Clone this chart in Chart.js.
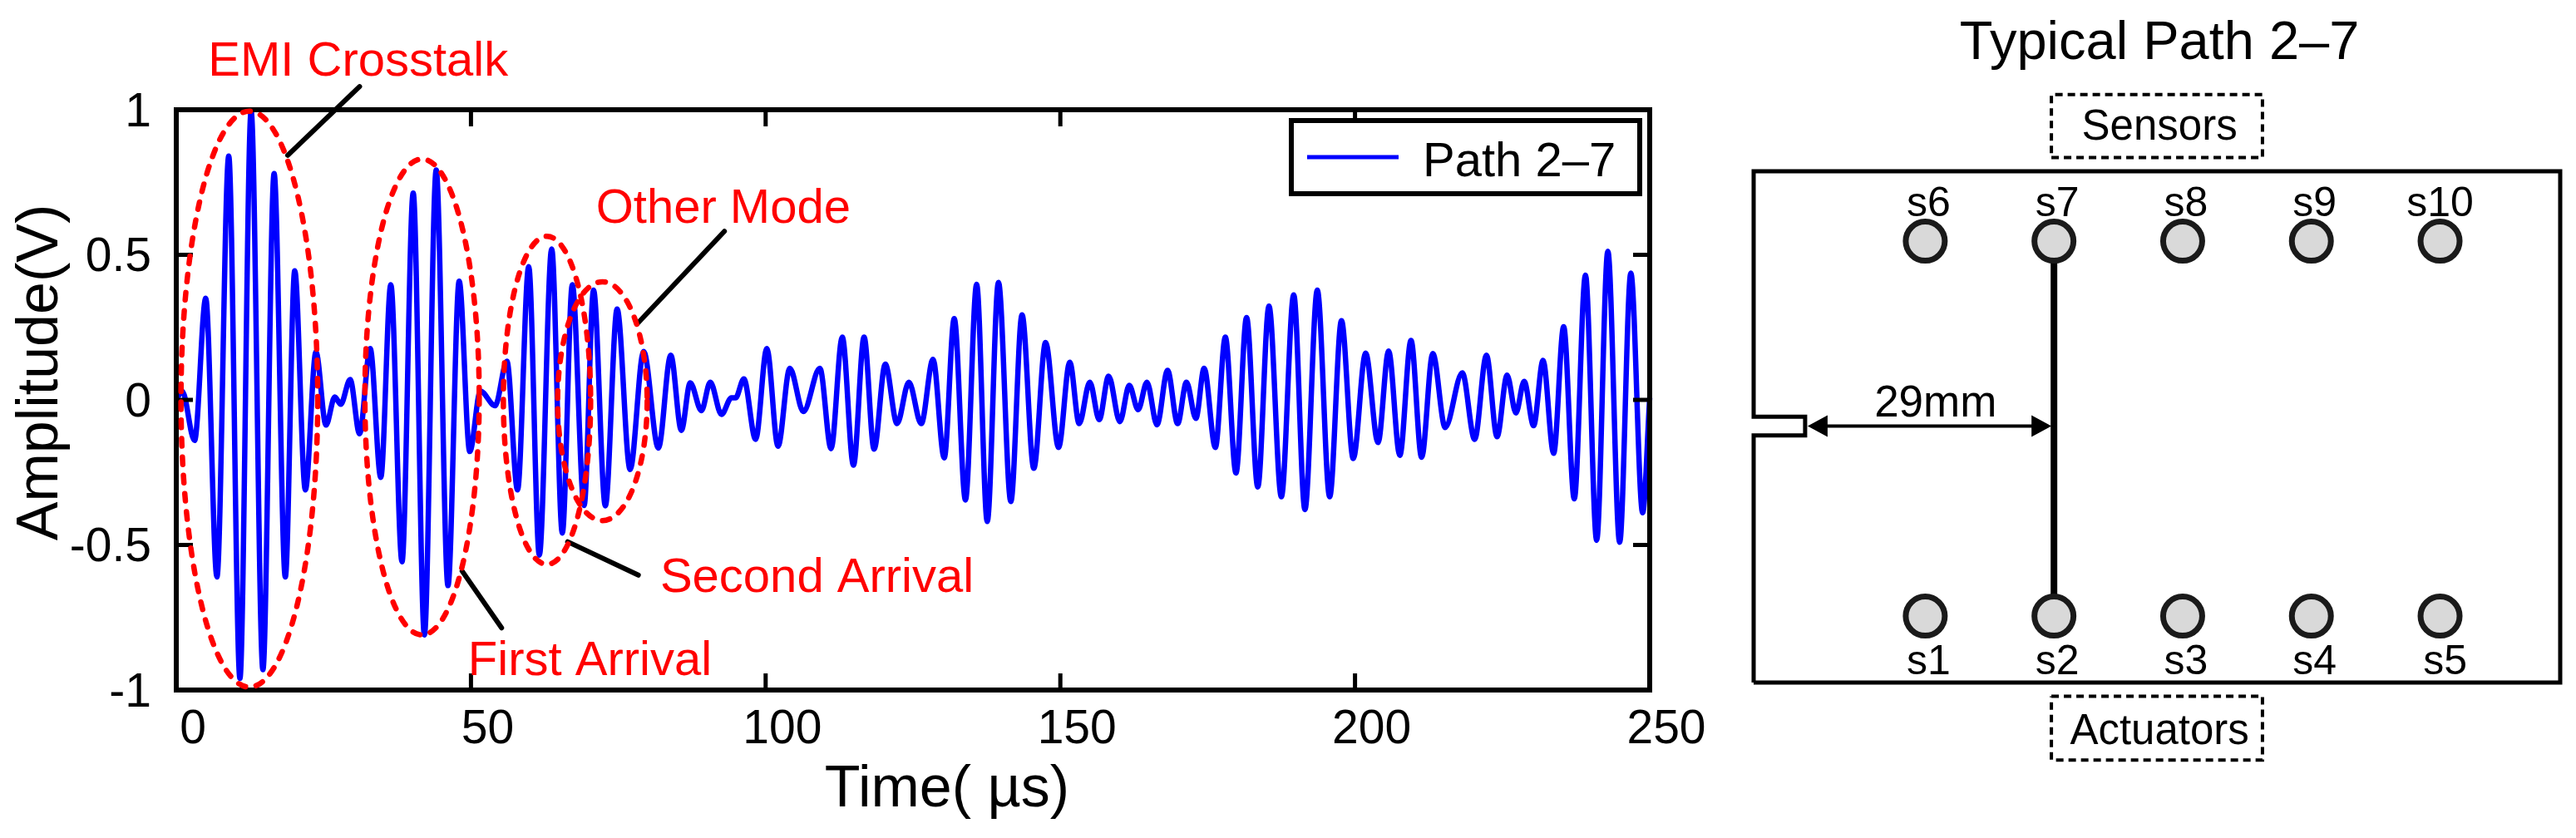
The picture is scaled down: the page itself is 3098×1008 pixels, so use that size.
<!DOCTYPE html>
<html>
<head>
<meta charset="utf-8">
<title>Path 2-7</title>
<script src="https://cdn.jsdelivr.net/npm/chart.js@4"></script>
<style>
  html, body { margin: 0; padding: 0; background: #fff; width: 3098px; height: 1008px; overflow: hidden; }
  canvas { position: absolute; top: 0; }
  #signalChart { left: 0; }
  #boardChart { left: 2090px; }
</style>
</head>
<body>
<canvas id="signalChart" width="2090" height="1008"></canvas>
<canvas id="boardChart" width="1008" height="1008"></canvas>
<script>
//Signal, peaks and troughs only
const times = [0, 1, 3.1, 5, 6.9, 8.9, 10.8, 12.7, 14.7, 16.6, 18.5, 20.1, 21.9, 23.7, 25.4, 26.9, 27.9, 29.5, 31.1,
  32.9, 34.7, 36.4, 38.3, 40.2, 42.1, 44.1, 46.1, 48, 49.8, 51.6, 54.1, 56.1, 57.9, 59.8, 61.6, 63.7, 65.5, 67.2,
  69.2, 70.8, 72.8, 74.8, 77, 79.3, 81.8, 83.9, 85.7, 87.2, 89.1, 90.6, 92.5, 94.2, 94.9, 96.3, 98.3, 100.2, 102.1,
  104.1, 106.4, 109.2, 111.1, 113, 114.9, 116.7, 118.4, 120.3, 122.3, 124.3, 126.4, 128.4, 130.3, 132, 133.9, 135.8,
  137.6, 139.5, 141.6, 143.5, 145.5, 147.5, 149.7, 151.6, 153.2, 155, 156.6, 158.2, 160.1, 161.7, 163.2, 164.7,
  166.4, 168.2, 169.9, 171.4, 173, 174.4, 176.3, 178, 179.8, 181.6, 183.5, 185.4, 187.5, 189.6, 191.5, 193.6, 195.7,
  197.7, 199.7, 201.8, 203.9, 205.7, 207.6, 209.5, 211.3, 213.2, 215.3, 218.2, 220.3, 222.3, 224.1, 225.8, 227.3,
  228.7, 230.3, 231.9, 233.7, 235.4, 237.2, 239.1, 241, 242.9, 244.9, 246.8, 248.8, 250];
const amplitudes = [0, 0.03, -0.14, 0.35, -0.61, 0.84, -0.96, 0.995, -0.93, 0.78, -0.61, 0.445, -0.31, 0.165, -0.087,
  0.01, -0.015, 0.07, -0.117, 0.177, -0.267, 0.397, -0.558, 0.713, -0.81, 0.792, -0.64, 0.409, -0.178, 0.03, -0.02,
  0.133, -0.31, 0.459, -0.535, 0.52, -0.459, 0.397, -0.364, 0.378, -0.365, 0.313, -0.24, 0.167, -0.166, 0.154, -0.105,
  0.059, -0.037, 0.061, -0.05, 0.007, 0.007, 0.072, -0.136, 0.177, -0.16, 0.109, -0.04, 0.109, -0.168, 0.216, -0.225,
  0.216, -0.17, 0.123, -0.082, 0.061, -0.082, 0.14, -0.2, 0.28, -0.345, 0.398, -0.419, 0.405, -0.35, 0.293, -0.236,
  0.198, -0.164, 0.13, -0.082, 0.061, -0.068, 0.082, -0.075, 0.05, -0.034, 0.061, -0.086, 0.102, -0.082, 0.061, -0.064,
  0.109, -0.164, 0.216, -0.252, 0.284, -0.3, 0.323, -0.334, 0.362, -0.378, 0.378, -0.334, 0.273, -0.202, 0.161, -0.147,
  0.168, -0.191, 0.205, -0.198, 0.16, -0.095, 0.093, -0.136, 0.154, -0.127, 0.085, -0.045, 0.064, -0.089, 0.136,
  -0.184, 0.252, -0.341, 0.43, -0.484, 0.512, -0.491, 0.437, -0.389, 0.007];
const seriesName = 'Path 2\u20137';
const xTicks = [0, 50, 100, 150, 200, 250];
const yTicks = [-1, -0.5, 0, 0.5, 1];

//Red notes on the signal: centre time, half width, top, bottom
const ellipseCentres = [12.4, 41.7, 62.9, 72.3];
const ellipseHalfWidths = [11.6, 9.7, 7.4, 7.6];
const ellipseTops = [0.995, 0.83, 0.564, 0.407];
const ellipseBottoms = [-0.99, -0.81, -0.567, -0.416];
const noteNames = ['EMI Crosstalk', 'First Arrival', 'Second Arrival', 'Other Mode'];
const noteTimes = [5.4, 49.5, 82.1, 71.2];
const noteAmps = [1.117, -0.949, -0.661, 0.61];
const leaderFromT = [31.1, 48.5, 66.4, 93];
const leaderFromA = [1.08, -0.59, -0.489, 0.581];
const leaderToT = [18.9, 55.2, 78.4, 78.2];
const leaderToA = [0.843, -0.786, -0.604, 0.262];

//Board diagram in mm
const sensorX = [20, 35, 50, 65, 80];
const topRowY = 51.8;
const bottomRowY = 7.8;
const topNames = ['s6', 's7', 's8', 's9', 's10'];
const bottomNames = ['s1', 's2', 's3', 's4', 's5'];
const boardX = [0, 0, 6, 6, 0, 0, 94, 94, 0];
const boardY = [0, 29, 29, 31.2, 31.2, 60, 60, 0, 0];
const pathX = [35, 35];
const pathY = [7.8, 51.8];
const sensorBoxX = [34.7, 59.3, 59.3, 34.7, 34.7];
const sensorBoxY = [61.6, 61.6, 69, 69, 61.6];
const actuatorBoxX = [34.7, 59.3, 59.3, 34.7, 34.7];
const actuatorBoxY = [-1.6, -1.6, -9.1, -9.1, -1.6];

const FONT = '"Liberation Sans", Arial, sans-serif';

function pairs(xs, ys) {
  return xs.map((x, i) => ({ x: x, y: ys[i] }));
}

//Frame, inward ticks, notes and legend for the signal chart
const signalExtras = {
  id: 'signalExtras',
  afterDatasetsDraw(chart) {
    const ctx = chart.ctx, sx = chart.scales.x, sy = chart.scales.y, area = chart.chartArea;
    ctx.save();
    ctx.strokeStyle = '#000';
    ctx.lineWidth = 5;
    xTicks.forEach(v => {
      const p = sx.getPixelForValue(v);
      ctx.beginPath();
      ctx.moveTo(p, area.top); ctx.lineTo(p, area.top + 20);
      ctx.moveTo(p, area.bottom); ctx.lineTo(p, area.bottom - 20);
      ctx.stroke();
    });
    yTicks.forEach(v => {
      const p = sy.getPixelForValue(v);
      ctx.beginPath();
      ctx.moveTo(area.left, p); ctx.lineTo(area.left + 20, p);
      ctx.moveTo(area.right, p); ctx.lineTo(area.right - 20, p);
      ctx.stroke();
    });
    ctx.lineWidth = 6;
    ctx.strokeRect(area.left, area.top, area.right - area.left, area.bottom - area.top);

    //leaders
    ctx.lineCap = 'round';
    ctx.lineWidth = 6;
    leaderFromT.forEach((t, i) => {
      ctx.beginPath();
      ctx.moveTo(sx.getPixelForValue(t), sy.getPixelForValue(leaderFromA[i]));
      ctx.lineTo(sx.getPixelForValue(leaderToT[i]), sy.getPixelForValue(leaderToA[i]));
      ctx.stroke();
    });

    //dashed ellipses
    ctx.strokeStyle = '#ff0000';
    ctx.lineWidth = 6.5;
    ctx.setLineDash([9, 13]);
    ellipseCentres.forEach((c, i) => {
      const rx = sx.getPixelForValue(c + ellipseHalfWidths[i]) - sx.getPixelForValue(c);
      const yTop = sy.getPixelForValue(ellipseTops[i]);
      const yBot = sy.getPixelForValue(ellipseBottoms[i]);
      ctx.beginPath();
      ctx.ellipse(sx.getPixelForValue(c), (yTop + yBot) / 2, rx, (yBot - yTop) / 2, 0, 0, Math.PI * 2);
      ctx.stroke();
    });
    ctx.setLineDash([]);
    ctx.lineCap = 'butt';

    //note text
    ctx.fillStyle = '#ff0000';
    ctx.font = '58px ' + FONT;
    ctx.textAlign = 'left';
    ctx.textBaseline = 'alphabetic';
    noteNames.forEach((name, i) => {
      ctx.fillText(name, sx.getPixelForValue(noteTimes[i]), sy.getPixelForValue(noteAmps[i]));
    });

    //axis titles
    ctx.fillStyle = '#000';
    ctx.font = '70px ' + FONT;
    ctx.textAlign = 'center';
    ctx.fillText('Time( \u00b5s)', 1139, 970);
    ctx.save();
    ctx.translate(69, 448);
    ctx.rotate(-Math.PI / 2);
    ctx.fillText('Amplitude(V)', 0, 0);
    ctx.restore();

    //legend
    ctx.fillStyle = '#fff';
    ctx.fillRect(1553, 145, 419, 88);
    ctx.strokeStyle = '#000';
    ctx.lineWidth = 6;
    ctx.strokeRect(1553, 145, 419, 88);
    ctx.strokeStyle = '#0000ff';
    ctx.lineWidth = 5;
    ctx.beginPath();
    ctx.moveTo(1572, 189); ctx.lineTo(1682, 189);
    ctx.stroke();
    ctx.fillStyle = '#000';
    ctx.font = '58px ' + FONT;
    ctx.textAlign = 'left';
    ctx.fillText(chart.data.datasets[0].label, 1711, 212);
    ctx.restore();
  }
};

//Text and arrow on the board diagram
const boardExtras = {
  id: 'boardExtras',
  afterDatasetsDraw(chart) {
    const ctx = chart.ctx, sx = chart.scales.x, sy = chart.scales.y;
    const px = v => sx.getPixelForValue(v), py = v => sy.getPixelForValue(v);
    ctx.save();
    ctx.fillStyle = '#000';
    ctx.strokeStyle = '#000';
    ctx.textAlign = 'center';
    ctx.textBaseline = 'alphabetic';

    ctx.font = '65px ' + FONT;
    ctx.fillText('Typical Path 2\u20137', px(47.3), 71);
    ctx.font = '51px ' + FONT;
    ctx.fillText('Sensors', px(47.3), 168);
    ctx.fillText('Actuators', px(47.3), 895);

    ctx.font = '50px ' + FONT;
    sensorX.forEach((x, i) => {
      ctx.fillText(topNames[i], px(x) + (i === 4 ? 0 : 4), 260);
      ctx.fillText(bottomNames[i], px(x) + (i === 4 ? 6 : 4), 811);
    });

    //29mm span between notch and path
    const ay = py(30.1), ax0 = px(6) + 3, ax1 = px(35) - 3;
    ctx.lineWidth = 4;
    ctx.beginPath();
    ctx.moveTo(ax0 + 10, ay); ctx.lineTo(ax1 - 10, ay);
    ctx.stroke();
    ctx.beginPath();
    ctx.moveTo(ax0, ay); ctx.lineTo(ax0 + 24, ay - 13); ctx.lineTo(ax0 + 24, ay + 13); ctx.closePath();
    ctx.moveTo(ax1, ay); ctx.lineTo(ax1 - 24, ay - 13); ctx.lineTo(ax1 - 24, ay + 13); ctx.closePath();
    ctx.fill();
    ctx.font = '53px ' + FONT;
    ctx.fillText('29mm', px(21.2), 501);
    ctx.restore();
  }
};

new Chart(document.getElementById('signalChart').getContext('2d'), {
  type: 'line',
  data: {
    datasets: [{
      label: seriesName,
      data: pairs(times, amplitudes),
      borderColor: '#0000ff',
      borderWidth: 6.5,
      pointRadius: 0,
      cubicInterpolationMode: 'monotone',
      fill: false,
      clip: false
    }]
  },
  options: {
    responsive: false,
    animation: false,
    devicePixelRatio: 1,
    layout: { padding: { left: 0, right: 106, top: 132, bottom: 0 } },
    plugins: { legend: { display: false }, tooltip: { enabled: false } },
    scales: {
      x: {
        type: 'linear',
        min: 0,
        max: 250,
        grid: { display: false },
        border: { display: false },
        afterFit: s => { s.height = 178; },
        afterBuildTicks: s => { s.ticks = xTicks.map(v => ({ value: v })); },
        ticks: {
          color: '#000',
          font: { family: FONT, size: 57 },
          padding: 6,
          labelOffset: 20,
          maxRotation: 0,
          autoSkip: false
        }
      },
      y: {
        type: 'linear',
        min: -1,
        max: 1,
        grid: { display: false },
        border: { display: false },
        afterFit: s => { s.width = 212; },
        afterBuildTicks: s => { s.ticks = yTicks.map(v => ({ value: v })); },
        ticks: {
          color: '#000',
          font: { family: FONT, size: 57 },
          padding: 22,
          labelOffset: 4,
          autoSkip: false,
          callback: v => String(v)
        }
      }
    }
  },
  plugins: [signalExtras]
});

new Chart(document.getElementById('boardChart').getContext('2d'), {
  type: 'scatter',
  data: {
    datasets: [
      {
        label: 'Sensors',
        data: pairs(sensorX, sensorX.map(() => topRowY)),
        backgroundColor: '#d9d9d9', borderColor: '#1a1a1a', borderWidth: 7, pointRadius: 23.5, clip: false
      },
      {
        label: 'Actuators',
        data: pairs(sensorX, sensorX.map(() => bottomRowY)),
        backgroundColor: '#d9d9d9', borderColor: '#1a1a1a', borderWidth: 7, pointRadius: 23.5, clip: false
      },
      {
        label: 'Path',
        data: pairs(pathX, pathY),
        showLine: true, borderColor: '#000', borderWidth: 8, pointRadius: 0, clip: false
      },
      {
        label: 'Board',
        data: pairs(boardX, boardY),
        showLine: true, borderColor: '#000', borderWidth: 5, pointRadius: 0, clip: false
      },
      {
        label: 'Sensor box',
        data: pairs(sensorBoxX, sensorBoxY),
        showLine: true, borderColor: '#000', borderWidth: 4, borderDash: [9, 6], pointRadius: 0, clip: false
      },
      {
        label: 'Actuator box',
        data: pairs(actuatorBoxX, actuatorBoxY),
        showLine: true, borderColor: '#000', borderWidth: 4, borderDash: [9, 6], pointRadius: 0, clip: false
      }
    ]
  },
  options: {
    responsive: false,
    animation: false,
    devicePixelRatio: 1,
    layout: { autoPadding: false, padding: { left: 19, right: 19, top: 206, bottom: 187 } },
    plugins: { legend: { display: false }, tooltip: { enabled: false } },
    scales: {
      x: { type: 'linear', min: 0, max: 94, display: false },
      y: { type: 'linear', min: 0, max: 60, display: false }
    }
  },
  plugins: [boardExtras]
});
</script>
</body>
</html>
